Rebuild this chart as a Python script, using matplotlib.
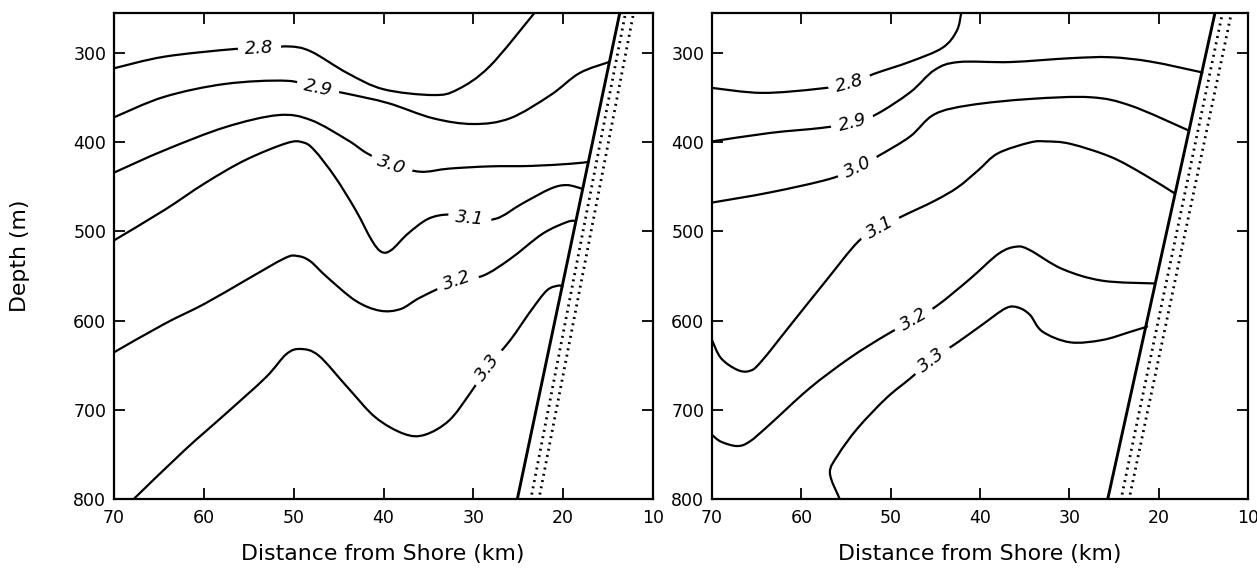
import numpy as np
import matplotlib
matplotlib.use("Agg")
import matplotlib.pyplot as plt
from matplotlib.path import Path
from matplotlib.patches import PathPatch

# ---------------- data (km from shore, depth m) ----------------
x_ticks = [70, 60, 50, 40, 30, 20, 10]
y_ticks = [300, 400, 500, 600, 700, 800]
levels = ["2.8", "2.9", "3.0", "3.1", "3.2", "3.3"]

# Left panel contours
L28_km = [70, 64.4, 56.7, 53.8, 50.6, 48.1, 44.0, 40.0, 34.5, 31.8, 28.2, 23.2]
L28_d = [317, 304, 295.5, 295, 292.5, 298, 322.5, 340.5, 347, 341, 315, 255]
L29_km = [70, 64.4, 57.6, 50.8, 47.3, 44.3, 39.5, 34.5, 30.0, 25.9, 21.4, 18.2, 14.9]
L29_d = [372, 349, 334.5, 331, 339, 345, 356, 373, 379.5, 373, 347, 322.5, 310]
L30_km = [70, 64.4, 57.6, 51.7, 48.1, 44.0, 41.8, 39.1, 35.9, 32.7, 28.2, 23.6, 19.1, 17.2]
L30_d = [434, 409, 383, 369.5, 375, 397.5, 412.5, 425, 433, 429.5, 427, 426.5, 424, 422]
L31_km = [70, 64.4, 59.9, 55.4, 50.8, 49.0, 47.7, 45.4, 43.1, 41.3, 40.2, 39.1,
          37.3, 35.0, 32.7, 30.4, 27.5, 24.6, 21.4, 19.6, 17.9]
L31_d = [510, 476, 446, 420, 401, 400, 408.8, 438.8, 476, 510, 523, 520.6,
         502.6, 485.7, 481, 485, 485.7, 469, 452, 448, 452]
L32_km = [70, 64.4, 59.9, 55.4, 51.0, 49.6, 48.2, 46.3, 43.1, 40.4, 38.1, 35.9, 31.8,
          28.9, 25.9, 22.3, 19.6, 18.6]
L32_d = [635.5, 603.7, 581, 555, 530, 527.5, 533, 551, 577.7, 588.8, 587, 574, 555,
         549.5, 530.8, 502.6, 489.5, 488]
L33_km = [67.8, 62.2, 57.6, 53.1, 50.8, 49.2, 47.2, 44.0, 40.9, 37.7, 35.4, 32.7,
          30.4, 28.4, 25.9, 23.6, 21.8, 20.5, 20.1]
L33_d = [800, 745.8, 704.7, 663.6, 637.4, 631.8, 639.3, 674.8, 708.4, 727, 728, 712,
         682, 652, 622, 589, 566, 560.7, 562]
L_lbl_km = [53.8, 47.3, 39.1, 30.4, 31.8, 28.4]
L_lbl_d = [295, 339, 425, 485, 555, 652]

# Right panel contours
R28_km = [70, 64.4, 58.1, 54.6, 51.8, 47.8, 44.2, 42.6, 42.1]
R28_d = [339, 344.6, 340, 334, 323, 309.5, 294, 275, 255]
R29_km = [70, 63.5, 57.7, 54.3, 51.6, 47.8, 45.1, 42.4, 36.6, 29.9, 25.4, 20.9, 15.1]
R29_d = [399, 389.5, 383.8, 378, 368.6, 343.8, 319, 310, 310, 305.7, 304.6, 309.5, 321.7]
R30_km = [70, 63.5, 56.8, 53.7, 51.2, 47.8, 45.1, 41.1, 34.4, 27.6, 23.1, 16.7]
R30_d = [467.6, 456.2, 441, 428, 414.3, 393.3, 368.6, 358.3, 351.4, 349.5, 359, 386.5]
R31_km = [70, 69.0, 67.2, 65.8, 64.5, 60.9, 57.3, 53.6, 51.2, 48.7, 45.1, 42.5,
          40.2, 38.0, 34.4, 32.6, 29.9, 25.4, 21.8, 18.2]
R31_d = [621.7, 642, 655, 656.4, 646, 601, 556, 511, 496, 482.9, 465.7, 450.5,
         431.4, 412.4, 400.2, 399, 401.7, 416.2, 435.2, 457.3]
R32_km = [70, 69.0, 67.2, 65.8, 63.6, 59.1, 54.6, 50.5, 47.4, 44.7, 41.1,
          37.9, 35.9, 34.4, 30.8, 26.3, 20.4]
R32_d = [728, 735.7, 740.6, 735.7, 717, 676, 642, 616, 599, 582.4, 553,
         524.8, 517, 521, 542, 555.2, 558.3]
R33_km = [55.7, 56.8, 55.9, 53.7, 50.5, 47.8, 45.4, 42.4, 39.8, 37.1, 35.7, 34.4,
          33.0, 29.9, 26.3, 23.1, 21.3]
R33_d = [800, 771, 750.7, 720.7, 687, 664.7, 644, 623.6, 604.9, 586, 585.4, 593.6,
         612.3, 624.3, 621.7, 612.3, 606.7]
R_lbl_km = [54.6, 54.3, 53.7, 51.2, 47.4, 45.4]
R_lbl_d = [334, 378, 428, 496, 599, 644]

# Continental slope (solid) and stippled band
shore_L_km = [25.1, 13.7]
shore_R_km = [25.7, 13.7]
shore_d = [800, 255]
dots_L1_km = [23.5, 13.1]
dots_L2_km = [22.6, 12.2]
dots_R1_km = [24.1, 12.9]
dots_R2_km = [23.2, 11.9]
dots_d = [795, 257]

# ---------------- figure ----------------
W, H = 1257, 569
fig = plt.figure(figsize=(W / 100, H / 100), dpi=100)
ax_l = fig.add_axes([114 / W, 1 - 499 / H, 539 / W, 486 / H])
ax_r = fig.add_axes([712 / W, 1 - 499 / H, 536 / W, 486 / H])

left_lines = [(L28_km, L28_d), (L29_km, L29_d), (L30_km, L30_d),
              (L31_km, L31_d), (L32_km, L32_d), (L33_km, L33_d)]
right_lines = [(R28_km, R28_d), (R29_km, R29_d), (R30_km, R30_d),
               (R31_km, R31_d), (R32_km, R32_d), (R33_km, R33_d)]


def smooth_path(ax, xs, ys):
    """Catmull-Rom curve through the given points, built as a Bezier path
    in display space and mapped back through the axes' data transform."""
    p = ax.transData.transform(np.column_stack([xs, ys]))
    n = len(p)
    verts = [p[0]]
    codes = [Path.MOVETO]
    for i in range(n - 1):
        p0 = p[i - 1] if i > 0 else p[i]
        p1 = p[i]
        p2 = p[i + 1]
        p3 = p[i + 2] if i + 2 < n else p[i + 1]
        c1 = p1 + (p2 - p0) / 6.0
        c2 = p2 - (p3 - p1) / 6.0
        verts += [c1, c2, p2]
        codes += [Path.CURVE4] * 3
    verts = ax.transData.inverted().transform(np.array(verts))
    return Path(verts, codes)


def setup(ax):
    ax.set_xlim(70, 10)
    ax.set_ylim(800, 255)
    ax.set_xticks(x_ticks)
    ax.set_xticklabels([str(v) for v in x_ticks])
    ax.set_yticks(y_ticks)
    ax.set_yticklabels([str(v) for v in y_ticks])
    ax.tick_params(axis="both", direction="in", length=8, width=1.3,
                   top=True, right=True, labelsize=12.5, color="black")
    ax.tick_params(axis="x", pad=7)
    ax.tick_params(axis="y", pad=5.5)
    for sp in ax.spines.values():
        sp.set_linewidth(1.6)
        sp.set_color("black")


def draw(ax, lines, lbl_km, lbl_d, shore_km, d1_km, d2_km):
    setup(ax)
    for (xs, ys) in lines:
        patch = PathPatch(smooth_path(ax, xs, ys), fill=False, ec="black",
                          lw=1.6, capstyle="round", joinstyle="round", zorder=2)
        ax.add_patch(patch)
    ax.plot(shore_km, shore_d, color="black", lw=2.1, zorder=4)
    for dk in (d1_km, d2_km):
        ax.plot(dk, dots_d, color="black", lw=2.0, linestyle=(0, (0.7, 1.6)),
                zorder=3)
    # labels, rotated to follow the line in display space
    for (xs, ys), lab, lx, ly in zip(lines, levels, lbl_km, lbl_d):
        pts = ax.transData.transform(np.column_stack([xs, ys]))
        p0 = ax.transData.transform((lx, ly))
        i = int(np.argmin(np.hypot(pts[:, 0] - p0[0], pts[:, 1] - p0[1])))
        a = pts[max(i - 1, 0)]
        b = pts[min(i + 1, len(pts) - 1)]
        ang = np.degrees(np.arctan2(b[1] - a[1], b[0] - a[0]))
        if ang > 90:
            ang -= 180
        if ang < -90:
            ang += 180
        ax.text(lx, ly, lab, fontsize=13, style="italic", ha="center",
                va="center", rotation=ang, rotation_mode="anchor", zorder=5,
                bbox=dict(boxstyle="square,pad=0.4", fc="white", ec="none"))


draw(ax_l, left_lines, L_lbl_km, L_lbl_d, shore_L_km, dots_L1_km, dots_L2_km)
draw(ax_r, right_lines, R_lbl_km, R_lbl_d, shore_R_km, dots_R1_km, dots_R2_km)

fig.text(20 / W, 1 - 256 / H, "Depth (m)", rotation=90, ha="center",
         va="center", fontsize=15.8)
fig.text(383 / W, 1 - 554 / H, "Distance from Shore (km)", ha="center",
         va="center", fontsize=15.8)
fig.text(980 / W, 1 - 554 / H, "Distance from Shore (km)", ha="center",
         va="center", fontsize=15.8)

fig.savefig("out.png", dpi=100, facecolor="white")
